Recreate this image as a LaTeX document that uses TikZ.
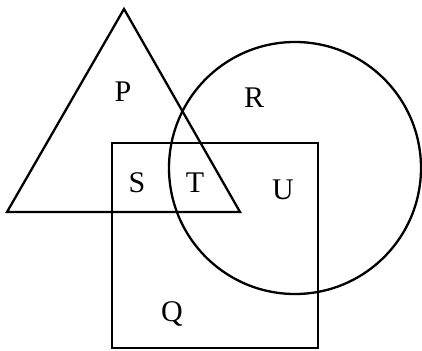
\documentclass[tikz,border=0pt]{standalone}
\usepackage{fontspec}
\setmainfont{Liberation Serif}
\begin{document}
\begin{tikzpicture}[x=1pt,y=-1pt,line width=2.3pt,
  lbl/.style={font=\fontsize{30}{34}\selectfont, inner sep=0pt}]
\useasboundingbox (0,0) rectangle (422,350);
\draw[line join=miter] (124,9) -- (240,212) -- (7,212) -- cycle;
\draw (295,168) circle[radius=126];
\draw (112,143) rectangle (318,348);
\node[lbl] (p) at (123,92) {P};
\node[lbl] (r) at (254,98) {R};
\node[lbl] (s) at (137,183) {S};
\node[lbl] (t) at (195,183) {T};
\node[lbl] (u) at (283,190) {U};
\node[lbl] (q) at (172,314) {Q};
\end{tikzpicture}
\end{document}
